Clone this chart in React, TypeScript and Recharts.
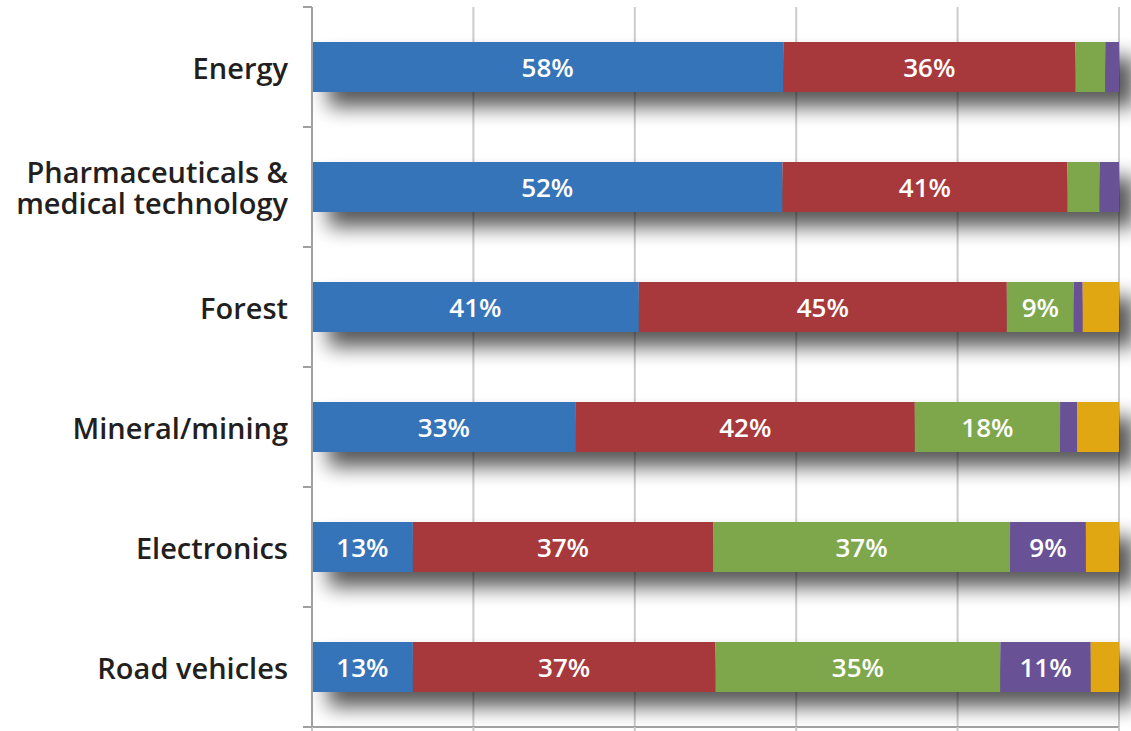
import React from 'react';
import { BarChart, Bar, XAxis, YAxis, CartesianGrid, LabelList } from 'recharts';

const categories = [
  'Energy',
  'Pharmaceuticals &\nmedical technology',
  'Forest',
  'Mineral/mining',
  'Electronics',
  'Road vehicles',
];

const blueValues = [58.4, 58.3, 40.5, 32.7, 12.5, 12.5];
const redValues = [36.2, 35.3, 45.6, 42.0, 37.2, 37.5];
const greenValues = [3.7, 4.0, 8.3, 18.0, 36.8, 35.3];
const purpleValues = [1.7, 2.4, 1.1, 2.1, 9.4, 11.2];
const orangeValues = [0, 0, 4.5, 5.2, 4.1, 3.5];

const blueLabels = ['58%', '52%', '41%', '33%', '13%', '13%'];
const redLabels = ['36%', '41%', '45%', '42%', '37%', '37%'];
const greenLabels = ['', '', '9%', '18%', '37%', '35%'];
const purpleLabels = ['', '', '', '', '9%', '11%'];
const orangeLabels = ['', '', '', '', '', ''];

const xTicks = [0, 20, 40, 60, 80, 100];

const data = categories.map((name, i) => ({
  name,
  blue: blueValues[i],
  red: redValues[i],
  green: greenValues[i],
  purple: purpleValues[i],
  orange: orangeValues[i],
  blueLabel: blueLabels[i],
  redLabel: redLabels[i],
  greenLabel: greenLabels[i],
  purpleLabel: purpleLabels[i],
  orangeLabel: orangeLabels[i],
  total: blueValues[i] + redValues[i] + greenValues[i] + purpleValues[i] + orangeValues[i],
}));

const FONT = '"Open Sans", "Noto Sans", sans-serif';
const TICK_MARGIN = 24;
const AXIS_COLOR = '#a0a0a0';

const EmptyTick = () => <g />;

const CategoryTick = (props: any) => {
  const { x, y, payload } = props;
  const lines = String(payload.value).split('\n');
  const lh = 31;
  const axisX = x + TICK_MARGIN;
  const half = typeof payload.offset === 'number' ? payload.offset : 0;
  return (
    <g>
      {half > 0 && (
        <>
          <line x1={axisX - 9} x2={axisX} y1={y - half} y2={y - half} stroke={AXIS_COLOR} strokeWidth={2} />
          <line x1={axisX - 9} x2={axisX} y1={y + half} y2={y + half} stroke={AXIS_COLOR} strokeWidth={2} />
        </>
      )}
      {lines.map((l: string, i: number) => (
        <text
          key={i}
          x={x}
          y={y + (i - (lines.length - 1) / 2) * lh}
          textAnchor="end"
          dominantBaseline="central"
          fontFamily={FONT}
          fontSize={29}
          fontWeight={600}
          fill="#231f20"
        >
          {l}
        </text>
      ))}
    </g>
  );
};

const ShadowShape = (props: any) => {
  const { x, y, width, height } = props;
  if (!width || !height) return null;
  return (
    <rect
      x={x + 16}
      y={y + 15}
      width={width}
      height={height}
      fill="#000"
      opacity={0.65}
      filter="url(#barShadow)"
    />
  );
};

const makeLabel = (key: string) => (props: any) => {
  const { x, y, width, height, index } = props;
  const text = (data[index] as any)[key];
  if (!text) return null;
  return (
    <text
      x={x + width / 2}
      y={y + height / 2}
      textAnchor="middle"
      dominantBaseline="central"
      fontFamily={FONT}
      fontSize={26}
      fontWeight={600}
      fill="#ffffff"
    >
      {text}
    </text>
  );
};

const series = [
  { key: 'blue', color: '#3674B9', label: 'blueLabel' },
  { key: 'red', color: '#A7393C', label: 'redLabel' },
  { key: 'green', color: '#7EA74B', label: 'greenLabel' },
  { key: 'purple', color: '#685295', label: 'purpleLabel' },
  { key: 'orange', color: '#E0A712', label: 'orangeLabel' },
];

export default function App() {
  return (
    <div style={{ position: 'absolute', left: 0, top: 0, width: 1131, height: 731, background: '#fff' }}>
      <BarChart
        width={1131}
        height={731}
        data={data}
        layout="vertical"
        margin={{ top: 7, right: 12, bottom: 0, left: 0 }}
        barCategoryGap={0}
      >
        <defs>
          <filter id="barShadow" x="-10%" y="-100%" width="120%" height="300%">
            <feGaussianBlur stdDeviation="10" />
          </filter>
        </defs>
        <CartesianGrid horizontal={false} vertical={true} stroke="#cccccc" strokeWidth={2} />
        <XAxis
          type="number"
          domain={[0, 100]}
          ticks={xTicks}
          tick={<EmptyTick />}
          tickSize={4}
          height={4}
          axisLine={{ stroke: AXIS_COLOR, strokeWidth: 2 }}
          tickLine={{ stroke: '#c8c8c8', strokeWidth: 2 }}
        />
        <YAxis
          type="category"
          dataKey="name"
          width={312}
          tickSize={0}
          tickMargin={TICK_MARGIN}
          tickLine={false}
          axisLine={{ stroke: AXIS_COLOR, strokeWidth: 2 }}
          tick={<CategoryTick />}
          interval={0}
        />
        <YAxis yAxisId="shadow" type="category" dataKey="name" hide />
        <Bar
          dataKey="total"
          yAxisId="shadow"
          barSize={50}
          isAnimationActive={false}
          shape={<ShadowShape />}
        />
        {series.map((s) => (
          <Bar
            key={s.key}
            dataKey={s.key}
            stackId="a"
            fill={s.color}
            barSize={50}
            isAnimationActive={false}
          >
            <LabelList dataKey={s.label} content={makeLabel(s.label)} />
          </Bar>
        ))}
      </BarChart>
    </div>
  );
}
